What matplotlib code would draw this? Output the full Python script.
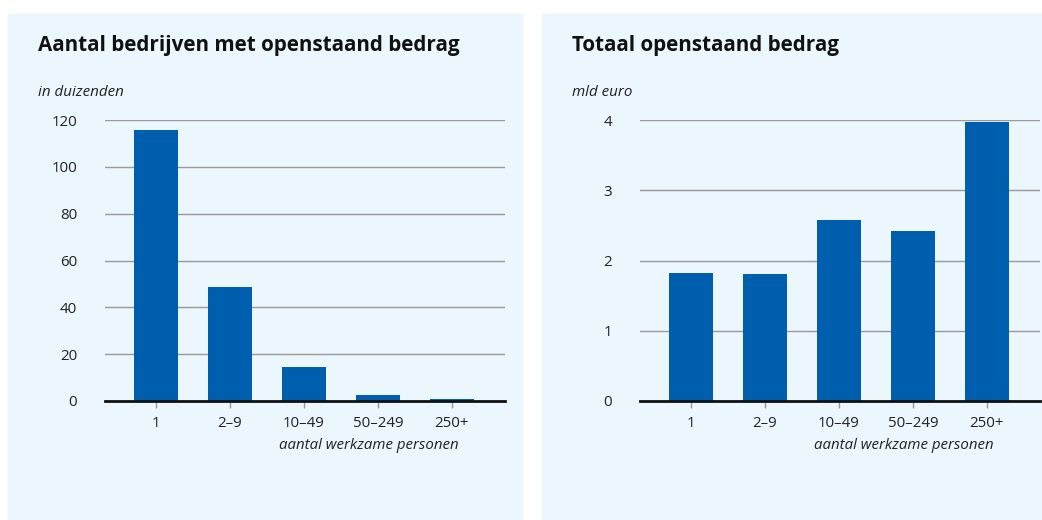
import matplotlib.pyplot as plt
from matplotlib.patches import Rectangle

categories = ['1', '2–9', '10–49', '50–249', '250+']
bedrijven = [115.8, 48.6, 14.5, 2.6, 0.8]      # in duizenden
bedrag = [1.82, 1.81, 2.58, 2.42, 3.97]        # mld euro

titles = ['Aantal bedrijven met openstaand bedrag', 'Totaal openstaand bedrag']
units = ['in duizenden', 'mld euro']
yticks = [[0, 20, 40, 60, 80, 100, 120], [0, 1, 2, 3, 4]]
xlabel = 'aantal werkzame personen'

bg = '#ebf6fd'
bar_color = '#005eae'
W, H = 1042, 520

plt.rcParams['font.family'] = ['Open Sans', 'DejaVu Sans']
fig = plt.figure(figsize=(W / 100, H / 100), dpi=100)

# panel backgrounds
for x0, x1 in [(8, 522), (542, 1042)]:
    fig.patches.append(Rectangle((x0 / W, 0), (x1 - x0) / W, 1 - 14 / H,
                                 transform=fig.transFigure, color=bg, zorder=-1))

panels = [(105, 505, 38), (640, 1040, 572)]
for i, (ax0, ax1, tx) in enumerate(panels):
    ax = fig.add_axes([ax0 / W, 1 - 401 / H, (ax1 - ax0) / W, (401 - 120) / H])
    ax.set_facecolor('none')
    vals = [bedrijven, bedrag][i]
    ax.bar(range(len(categories)), vals, width=0.6, color=bar_color, zorder=3)
    ax.set_xlim(-0.69, 4.72)
    ax.set_ylim(0, yticks[i][-1])
    ax.set_yticks(yticks[i])
    ax.set_xticks(range(len(categories)))
    ax.set_xticklabels(categories)
    ax.grid(axis='y', color='#9a9a9a', linewidth=1, zorder=1)
    for s in ['top', 'right', 'left']:
        ax.spines[s].set_visible(False)
    ax.spines['bottom'].set_linewidth(2)
    ax.spines['bottom'].set_color('#111111')
    ax.spines['bottom'].set_zorder(4)
    ax.tick_params(axis='y', length=0, pad=20, labelsize=10.8, labelcolor='#222222')
    ax.tick_params(axis='x', length=5, color='#999999', width=1, pad=6,
                   labelsize=10.8, labelcolor='#222222')
    ax.set_xlabel(xlabel, fontsize=10.8, style='italic', color='#222222',
                  labelpad=2)
    ax.xaxis.set_label_coords(0.66, -0.13)
    fig.text(tx / W, 1 - 46 / H, titles[i], fontsize=14.9, fontweight='bold',
             color='#111111', va='center', ha='left')
    fig.text(tx / W, 1 - 92 / H, units[i], fontsize=10.9, style='italic',
             color='#222222', va='center', ha='left')

fig.savefig('out.png', dpi=100, facecolor='white')
